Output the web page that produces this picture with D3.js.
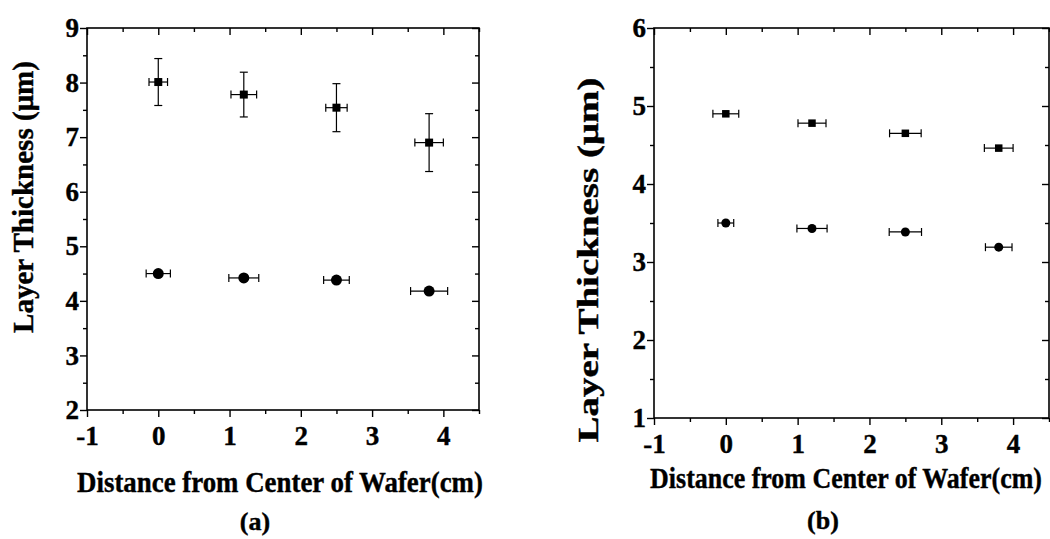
<!DOCTYPE html>
<html>
<head>
<meta charset="utf-8">
<script src="https://cdn.jsdelivr.net/npm/d3@7"></script>
<style>
  html, body { margin: 0; padding: 0; background: #fff; }
  svg { display: block; }
  text { font-family: "Liberation Serif", "Times New Roman", serif; font-weight: bold; fill: #000; stroke: #000; stroke-width: 0.4px; }
</style>
</head>
<body>
<svg id="chart" width="1050" height="539"></svg>
<script>
// --- data ---
const xPos = [0, 1.2, 2.5, 3.8];
const xTicks = [-1, 0, 1, 2, 3, 4];

// panel (a)
const aSquareY = [8.01, 7.78, 7.54, 6.90];
const aSquareYErr = [0.43, 0.41, 0.44, 0.53];
const aSquareXErr = [0.13, 0.18, 0.15, 0.20];
const aCircleY = [4.50, 4.42, 4.38, 4.18];
const aCircleXErr = [0.17, 0.21, 0.18, 0.26];
const aYTicks = [2, 3, 4, 5, 6, 7, 8, 9];

// panel (b)
const bSquareY = [4.90, 4.78, 4.65, 4.46];
const bSquareXErr = [0.18, 0.195, 0.22, 0.20];
const bCircleY = [3.50, 3.43, 3.385, 3.19];
const bCircleXErr = [0.11, 0.21, 0.225, 0.185];
const bYTicks = [1, 2, 3, 4, 5, 6];

const xLabel = "Distance from Center of Wafer(cm)";
const yLabel = "Layer Thickness (\u03bcm)";

const svg = d3.select("#chart");
const fmt = d => String(d); // plain hyphen for -1, like the original

function series(ys, xerr, yerr) {
  return xPos.map((x, i) => ({ x, y: ys[i], xe: xerr[i], ye: yerr ? yerr[i] : 0 }));
}

// text squeezed/stretched along its baseline to a given length (the scan is condensed)
function fitText(g, str, size, cx, cy, len, rot) {
  const t = g.append("text").attr("text-anchor", "middle").style("font-size", size + "px").text(str);
  const k = len / t.node().getComputedTextLength();
  t.attr("transform", `translate(${cx},${cy})${rot ? " rotate(-90)" : ""} scale(${k},1)`);
  return t;
}

function drawPanel(p) {
  const g = svg.append("g");
  const x = d3.scaleLinear().domain([-1, 4.5]).range([p.left, p.right]);
  const y = d3.scaleLinear().domain(p.yDomain).range([p.bottom, p.top]);
  const yMinor = d3.range(p.yDomain[0] + 0.5, p.yDomain[1], 1);
  const xMinor = d3.range(-0.5, 4.6, 1);

  // minor ticks: out on left/bottom, in on top/right
  g.append("g").attr("transform", `translate(${p.left},0)`)
    .call(d3.axisLeft(y).tickValues(yMinor).tickSize(4).tickFormat(""));
  g.append("g").attr("transform", `translate(0,${p.bottom})`)
    .call(d3.axisBottom(x).tickValues(xMinor).tickSize(4).tickFormat(""));
  g.append("g").attr("transform", `translate(0,${p.top})`)
    .call(d3.axisTop(x).tickValues(xMinor).tickSize(-4).tickFormat(""));
  g.append("g").attr("transform", `translate(${p.right},0)`)
    .call(d3.axisRight(y).tickValues(yMinor).tickSize(-4).tickFormat(""));

  // major ticks
  const yAx = g.append("g").attr("transform", `translate(${p.left},0)`)
    .call(d3.axisLeft(y).tickValues(p.yTicks).tickSize(7).tickPadding(1).tickFormat(fmt));
  const xAx = g.append("g").attr("transform", `translate(0,${p.bottom})`)
    .call(d3.axisBottom(x).tickValues(xTicks).tickSize(7).tickPadding(10).tickFormat(fmt));
  g.append("g").attr("transform", `translate(0,${p.top})`)
    .call(d3.axisTop(x).tickValues(xTicks).tickSize(-7).tickFormat(""));
  g.append("g").attr("transform", `translate(${p.right},0)`)
    .call(d3.axisRight(y).tickValues(p.yTicks).tickSize(-7).tickFormat(""));

  g.selectAll(".domain").remove();
  g.selectAll(".tick line").attr("stroke", "#000").attr("stroke-width", 1.4);
  [yAx, xAx].forEach(ax => ax.attr("font-family", null).attr("font-size", 27).attr("font-weight", "bold"));
  xAx.selectAll(".tick text").attr("dy", null).attr("y", 35);

  // frame
  g.append("rect")
    .attr("x", p.left).attr("y", p.top)
    .attr("width", p.right - p.left).attr("height", p.bottom - p.top)
    .attr("fill", "none").attr("stroke", "#000").attr("stroke-width", 1.6);

  // error bars + markers
  const drawSeries = (data, shape, size) => {
    const cap = 4;
    const s = g.append("g").attr("stroke", "#000").attr("stroke-width", 1.2).attr("fill", "#000");
    data.forEach(d => {
      const cx = x(d.x), cy = y(d.y);
      const x0 = x(d.x - d.xe), x1 = x(d.x + d.xe);
      s.append("line").attr("x1", x0).attr("x2", x1).attr("y1", cy).attr("y2", cy);
      s.append("line").attr("x1", x0).attr("x2", x0).attr("y1", cy - cap).attr("y2", cy + cap);
      s.append("line").attr("x1", x1).attr("x2", x1).attr("y1", cy - cap).attr("y2", cy + cap);
      if (d.ye > 0) {
        const y0 = y(d.y - d.ye), y1 = y(d.y + d.ye);
        s.append("line").attr("x1", cx).attr("x2", cx).attr("y1", y0).attr("y2", y1);
        s.append("line").attr("x1", cx - cap).attr("x2", cx + cap).attr("y1", y0).attr("y2", y0);
        s.append("line").attr("x1", cx - cap).attr("x2", cx + cap).attr("y1", y1).attr("y2", y1);
      }
      if (shape === "square") {
        s.append("rect").attr("x", cx - size / 2).attr("y", cy - size / 2)
          .attr("width", size).attr("height", size).attr("stroke", "none");
      } else {
        s.append("circle").attr("cx", cx).attr("cy", cy).attr("r", size / 2).attr("stroke", "none");
      }
    });
  };
  drawSeries(p.squares, "square", p.sqSize);
  drawSeries(p.circles, "circle", p.circSize);

  // axis titles
  fitText(g, yLabel, 29, p.yLabelX, p.yLabelY, p.yLabelLen, true);
  fitText(g, xLabel, 30, p.xLabelX, p.xLabelY, p.xLabelLen, false);
  g.append("text")
    .attr("x", p.capX).attr("y", p.capY)
    .attr("text-anchor", "middle")
    .style("font-size", "26px")
    .text(p.caption);
}

drawPanel({
  left: 87, right: 479, top: 28, bottom: 410,
  yDomain: [2, 9], yTicks: aYTicks,
  squares: series(aSquareY, aSquareXErr, aSquareYErr),
  circles: series(aCircleY, aCircleXErr),
  sqSize: 8, circSize: 11,
  yLabelX: 33, yLabelY: 197, yLabelLen: 272,
  xLabelX: 280, xLabelY: 492, xLabelLen: 406,
  capX: 255, capY: 530, caption: "(a)"
});

drawPanel({
  left: 654, right: 1049, top: 28, bottom: 418,
  yDomain: [1, 6], yTicks: bYTicks,
  squares: series(bSquareY, bSquareXErr),
  circles: series(bCircleY, bCircleXErr),
  sqSize: 7.5, circSize: 9,
  yLabelX: 598, yLabelY: 260, yLabelLen: 365,
  xLabelX: 846, xLabelY: 488, xLabelLen: 392,
  capX: 823, capY: 529, caption: "(b)"
});
</script>
</body>
</html>
